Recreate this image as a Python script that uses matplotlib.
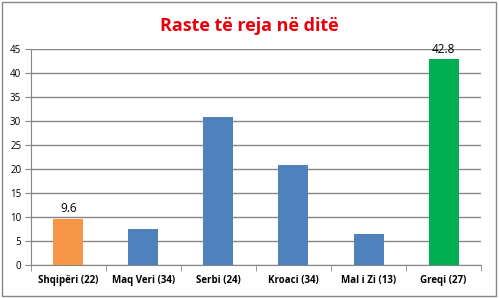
import matplotlib.pyplot as plt
from matplotlib.patches import Rectangle

countries = ['Shqipëri (22)', 'Maq Veri (34)', 'Serbi (24)', 'Kroaci (34)', 'Mal i Zi (13)', 'Greqi (27)']
new_cases = [9.6, 7.5, 30.9, 20.8, 6.5, 42.8]
bar_colors = ['#F79646', '#4F81BD', '#4F81BD', '#4F81BD', '#4F81BD', '#00B050']
labelled = {0: '9.6', 5: '42.8'}

plt.rcParams['font.family'] = ['Open Sans', 'DejaVu Sans']

fig = plt.figure(figsize=(4.99, 2.98), dpi=100)
ax = fig.add_axes([0.062, 0.111, 0.902, 0.725])

x = range(len(countries))
ax.bar(x, new_cases, width=0.4, color=bar_colors, zorder=3)
for i, txt in labelled.items():
    ax.text(i, new_cases[i] + 0.8, txt, ha='center', va='bottom', fontsize=8.5, color='black')

ax.set_xlim(-0.5, len(countries) - 0.5)
ax.set_ylim(0, 45)
ax.set_yticks(range(0, 46, 5))
ax.set_xticks(list(x))
ax.set_xticklabels(countries, fontsize=7, fontweight='bold')
ax.set_xticks([i - 0.5 for i in range(len(countries) + 1)], minor=True)
ax.tick_params(axis='x', which='major', length=0, pad=7)
ax.tick_params(axis='x', which='minor', length=4, color='#868686', direction='out')
ax.tick_params(axis='y', length=4, color='#868686', labelsize=7, pad=3)
ax.yaxis.grid(True, color='#868686', linewidth=1)
for s in ['top', 'right']:
    ax.spines[s].set_visible(False)
ax.spines['left'].set_color('#868686')
ax.spines['bottom'].set_color('#868686')

fig.text(0.5, 0.913, 'Raste të reja në ditë', ha='center', va='center',
         fontsize=13, fontweight='bold', color='#E8000B')
fig.patches.append(Rectangle((0.004, 0.006), 0.99, 0.988, transform=fig.transFigure,
                             fill=False, edgecolor='#868686', linewidth=1))

fig.savefig('out.png', dpi=100)
